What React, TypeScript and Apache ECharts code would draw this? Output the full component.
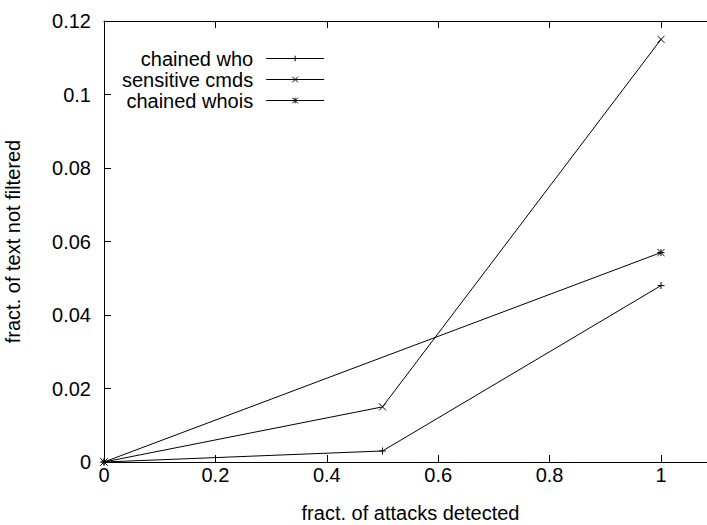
import React, { useEffect, useRef } from "react";
import * as echarts from "echarts";

const seriesNames = ["chained who", "sensitive cmds", "chained whois"];
const whoData: [number, number][] = [[0, 0], [0.5, 0.003], [1, 0.048]];
const cmdsData: [number, number][] = [[0, 0], [0.5, 0.015], [1, 0.115]];
const whoisData: [number, number][] = [[0, 0], [1, 0.057]];
const xTicks = [0, 0.2, 0.4, 0.6, 0.8, 1];
const yTicks = [0, 0.02, 0.04, 0.06, 0.08, 0.1, 0.12];

const PLUS = "path://M5,0L5,10M0,5L10,5";
const CROSS = "path://M0,0L10,10M0,10L10,0";
const STAR = "path://M5,0L5,10M0,5L10,5M0,0L10,10M0,10L10,0";

const FONT = "Liberation Sans, Arial, Helvetica, sans-serif";
const XMAX = 1.0826;

export default function App() {
  const ref = useRef<HTMLDivElement>(null);
  useEffect(() => {
    const chart = echarts.init(ref.current!, null, { renderer: "svg" });
    const mk = (name: string, data: [number, number][], sym: string) => ({
      name,
      type: "line",
      data,
      symbol: sym,
      symbolSize: 7,
      showSymbol: true,
      lineStyle: { color: "#000", width: 1 },
      itemStyle: { color: "#000", borderColor: "#000", borderWidth: 1 },
      emphasis: { disabled: true },
    });
    const fmt = (ticks: number[]) => (v: number) =>
      ticks.some((t) => Math.abs(t - v) < 1e-9) ? String(+v.toFixed(2)) : "";
    chart.setOption({
      animation: false,
      textStyle: { fontFamily: FONT },
      grid: { left: 104, right: 0, top: 21, bottom: 63, containLabel: false, outerBoundsMode: "none" },
      legend: {
        orient: "vertical",
        left: 122,
        top: 48,
        align: "right",
        padding: 0,
        itemWidth: 58,
        itemHeight: 7,
        itemGap: 0,
        lineStyle: { width: 1, color: "#000" },
        itemStyle: { borderWidth: 1, borderColor: "#000" },
        textStyle: { fontSize: 20, lineHeight: 21, color: "#000", fontFamily: FONT, padding: [0, 8, 0, 0] },
        data: seriesNames,
      },
      xAxis: [
        {
          type: "value",
          min: 0,
          max: XMAX,
          interval: 0.2,
          name: "fract. of attacks detected",
          nameLocation: "middle",
          nameGap: 41,
          nameTextStyle: { fontSize: 20, color: "#000", fontFamily: FONT, padding: [0, 0, 0, 10] },
          axisLine: { lineStyle: { color: "#000", width: 1 } },
          axisTick: { inside: true, length: 7, lineStyle: { color: "#000" } },
          axisLabel: { fontSize: 20, color: "#000", margin: 3, showMaxLabel: false, formatter: fmt(xTicks) },
          splitLine: { show: false },
        },
        {
          type: "value",
          position: "top",
          min: 0,
          max: XMAX,
          interval: 0.2,
          axisLine: { show: true, lineStyle: { color: "#000", width: 1 } },
          axisTick: { inside: true, length: 7, lineStyle: { color: "#000" } },
          axisLabel: { show: false },
          splitLine: { show: false },
        },
      ],
      yAxis: {
        type: "value",
        min: 0,
        max: 0.12,
        interval: 0.02,
        name: "fract. of text not filtered",
        nameLocation: "middle",
        nameGap: 81,
        nameTextStyle: { fontSize: 20, color: "#000", fontFamily: FONT },
        axisLine: { show: true, lineStyle: { color: "#000", width: 1 } },
        axisTick: { inside: true, length: 7, lineStyle: { color: "#000" } },
        axisLabel: { fontSize: 20, color: "#000", margin: 13, formatter: fmt(yTicks) },
        splitLine: { show: false },
      },
      series: [
        mk(seriesNames[0], whoData, PLUS),
        mk(seriesNames[1], cmdsData, CROSS),
        mk(seriesNames[2], whoisData, STAR),
      ],
    });
    return () => chart.dispose();
  }, []);
  return <div ref={ref} style={{ position: "absolute", left: 0, top: 0, width: 707, height: 525 }} />;
}
